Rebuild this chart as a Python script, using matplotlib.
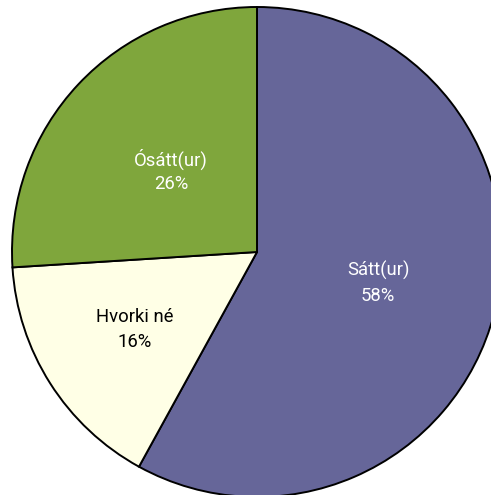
import numpy as np
import matplotlib.pyplot as plt

# Gogn
flokkar = ['Sátt(ur)', 'Hvorki né', 'Ósátt(ur)']
hlutfall = [58, 16, 26]
litir = ['#666699', '#FFFFE6', '#7FA63C']
textalitir = ['white', 'black', 'white']
fjarlaegd = [0.51, 0.59, 0.48]

plt.rcParams['font.family'] = ['Roboto', 'DejaVu Sans']

fig = plt.figure(figsize=(4.91, 4.95), dpi=100)
ax = fig.add_axes([0, 0, 1, 1])

R = 245
cx, cy = 257, 495 - 252
wedges, _ = ax.pie(hlutfall, colors=litir, startangle=90, counterclock=False,
                   radius=R, center=(cx, cy),
                   wedgeprops=dict(edgecolor='black', linewidth=1.4))

for w, nafn, p, tc, d in zip(wedges, flokkar, hlutfall, textalitir, fjarlaegd):
    mid = np.deg2rad((w.theta1 + w.theta2) / 2)
    x = cx + d * R * np.cos(mid)
    y = cy + d * R * np.sin(mid)
    ax.text(x, y + 12.5, nafn, ha='center', va='center', fontsize=13.3, color=tc)
    ax.text(x, y - 12.5, f'{p}%', ha='center', va='center', fontsize=13.3, color=tc)

ax.set_xlim(0, 491)
ax.set_ylim(0, 495)
ax.set_aspect('equal')
ax.axis('off')

fig.savefig('out.png', dpi=100)
